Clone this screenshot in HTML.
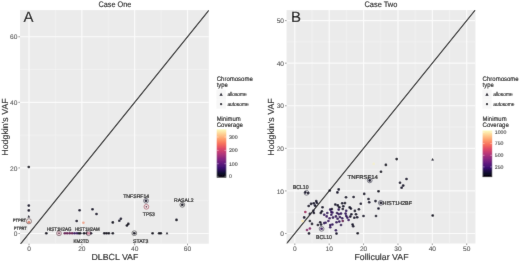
<!DOCTYPE html><html><head><meta charset="utf-8"><style>html,body{margin:0;padding:0;background:#fff;width:520px;height:262px;overflow:hidden}svg{display:block;text-rendering:geometricPrecision}#w{width:520px;height:262px}</style></head><body><div id="w"><svg width="520" height="262" viewBox="0 0 520 262" font-family='"Liberation Sans", sans-serif'>
<defs><filter id="bl" x="0" y="0" width="520" height="262" filterUnits="userSpaceOnUse"><feConvolveMatrix order="3" kernelMatrix="0.00524 0.06192 0.00524 0.06192 0.73137 0.06192 0.00524 0.06192 0.00524" edgeMode="duplicate" preserveAlpha="true"/></filter></defs><g filter="url(#bl)">
<rect width="520" height="262" fill="#FFFFFF"/>
<rect x="20.0" y="10.1" width="188.8" height="233.6" fill="#EBEBEB"/>
<line x1="55.42" y1="10.1" x2="55.42" y2="243.7" stroke="#F3F3F3" stroke-width="0.7"/>
<line x1="20.0" y1="200.71" x2="208.8" y2="200.71" stroke="#F3F3F3" stroke-width="0.7"/>
<line x1="108.26" y1="10.1" x2="108.26" y2="243.7" stroke="#F3F3F3" stroke-width="0.7"/>
<line x1="20.0" y1="135.13" x2="208.8" y2="135.13" stroke="#F3F3F3" stroke-width="0.7"/>
<line x1="161.10" y1="10.1" x2="161.10" y2="243.7" stroke="#F3F3F3" stroke-width="0.7"/>
<line x1="20.0" y1="69.55" x2="208.8" y2="69.55" stroke="#F3F3F3" stroke-width="0.7"/>
<line x1="29.00" y1="10.1" x2="29.00" y2="243.7" stroke="#FBFBFB" stroke-width="1.2"/>
<line x1="20.0" y1="233.50" x2="208.8" y2="233.50" stroke="#FBFBFB" stroke-width="1.2"/>
<line x1="81.84" y1="10.1" x2="81.84" y2="243.7" stroke="#FBFBFB" stroke-width="1.2"/>
<line x1="20.0" y1="167.92" x2="208.8" y2="167.92" stroke="#FBFBFB" stroke-width="1.2"/>
<line x1="134.68" y1="10.1" x2="134.68" y2="243.7" stroke="#FBFBFB" stroke-width="1.2"/>
<line x1="20.0" y1="102.34" x2="208.8" y2="102.34" stroke="#FBFBFB" stroke-width="1.2"/>
<line x1="187.52" y1="10.1" x2="187.52" y2="243.7" stroke="#FBFBFB" stroke-width="1.2"/>
<line x1="20.0" y1="36.76" x2="208.8" y2="36.76" stroke="#FBFBFB" stroke-width="1.2"/>
<line x1="29.00" y1="243.7" x2="29.00" y2="245.29999999999998" stroke="#333333" stroke-width="0.5"/>
<line x1="18.4" y1="233.50" x2="20.0" y2="233.50" stroke="#333333" stroke-width="0.5"/>
<text stroke="#4D4D4D" stroke-width="0.1" x="29.00" y="251.4" font-size="6.6" fill="#4D4D4D" text-anchor="middle">0</text>
<text stroke="#4D4D4D" stroke-width="0.1" x="17.40" y="236.10" font-size="6.6" fill="#4D4D4D" text-anchor="end">0</text>
<line x1="81.84" y1="243.7" x2="81.84" y2="245.29999999999998" stroke="#333333" stroke-width="0.5"/>
<line x1="18.4" y1="167.92" x2="20.0" y2="167.92" stroke="#333333" stroke-width="0.5"/>
<text stroke="#4D4D4D" stroke-width="0.1" x="81.84" y="251.4" font-size="6.6" fill="#4D4D4D" text-anchor="middle">20</text>
<text stroke="#4D4D4D" stroke-width="0.1" x="17.40" y="170.52" font-size="6.6" fill="#4D4D4D" text-anchor="end">20</text>
<line x1="134.68" y1="243.7" x2="134.68" y2="245.29999999999998" stroke="#333333" stroke-width="0.5"/>
<line x1="18.4" y1="102.34" x2="20.0" y2="102.34" stroke="#333333" stroke-width="0.5"/>
<text stroke="#4D4D4D" stroke-width="0.1" x="134.68" y="251.4" font-size="6.6" fill="#4D4D4D" text-anchor="middle">40</text>
<text stroke="#4D4D4D" stroke-width="0.1" x="17.40" y="104.94" font-size="6.6" fill="#4D4D4D" text-anchor="end">40</text>
<line x1="187.52" y1="243.7" x2="187.52" y2="245.29999999999998" stroke="#333333" stroke-width="0.5"/>
<line x1="18.4" y1="36.76" x2="20.0" y2="36.76" stroke="#333333" stroke-width="0.5"/>
<text stroke="#4D4D4D" stroke-width="0.1" x="187.52" y="251.4" font-size="6.6" fill="#4D4D4D" text-anchor="middle">60</text>
<text stroke="#4D4D4D" stroke-width="0.1" x="17.40" y="39.36" font-size="6.6" fill="#4D4D4D" text-anchor="end">60</text>
<text stroke="#000" stroke-width="0.1" x="114.9" y="6.9" font-size="8" fill="#000" text-anchor="middle" textLength="33" lengthAdjust="spacingAndGlyphs">Case One</text>
<text stroke="#000" stroke-width="0.1" x="114.90" y="260.2" font-size="8.8" fill="#000" text-anchor="middle">DLBCL VAF</text>
<text stroke="#000" stroke-width="0.1" transform="translate(7.90 127.0) rotate(-90)" font-size="8.8" fill="#000" text-anchor="middle">Hodgkin's VAF</text>
<text stroke="#000" stroke-width="0.1" x="23.6" y="22.1" font-size="15" fill="#000">A</text>
<rect x="286.6" y="10.1" width="188.79999999999995" height="233.4" fill="#EBEBEB"/>
<line x1="311.99" y1="10.1" x2="311.99" y2="243.5" stroke="#F3F3F3" stroke-width="0.7"/>
<line x1="286.6" y1="212.21" x2="475.4" y2="212.21" stroke="#F3F3F3" stroke-width="0.7"/>
<line x1="346.37" y1="10.1" x2="346.37" y2="243.5" stroke="#F3F3F3" stroke-width="0.7"/>
<line x1="286.6" y1="169.63" x2="475.4" y2="169.63" stroke="#F3F3F3" stroke-width="0.7"/>
<line x1="380.75" y1="10.1" x2="380.75" y2="243.5" stroke="#F3F3F3" stroke-width="0.7"/>
<line x1="286.6" y1="127.05" x2="475.4" y2="127.05" stroke="#F3F3F3" stroke-width="0.7"/>
<line x1="415.13" y1="10.1" x2="415.13" y2="243.5" stroke="#F3F3F3" stroke-width="0.7"/>
<line x1="286.6" y1="84.47" x2="475.4" y2="84.47" stroke="#F3F3F3" stroke-width="0.7"/>
<line x1="449.51" y1="10.1" x2="449.51" y2="243.5" stroke="#F3F3F3" stroke-width="0.7"/>
<line x1="286.6" y1="41.89" x2="475.4" y2="41.89" stroke="#F3F3F3" stroke-width="0.7"/>
<line x1="294.80" y1="10.1" x2="294.80" y2="243.5" stroke="#FBFBFB" stroke-width="1.2"/>
<line x1="286.6" y1="233.50" x2="475.4" y2="233.50" stroke="#FBFBFB" stroke-width="1.2"/>
<line x1="329.18" y1="10.1" x2="329.18" y2="243.5" stroke="#FBFBFB" stroke-width="1.2"/>
<line x1="286.6" y1="190.92" x2="475.4" y2="190.92" stroke="#FBFBFB" stroke-width="1.2"/>
<line x1="363.56" y1="10.1" x2="363.56" y2="243.5" stroke="#FBFBFB" stroke-width="1.2"/>
<line x1="286.6" y1="148.34" x2="475.4" y2="148.34" stroke="#FBFBFB" stroke-width="1.2"/>
<line x1="397.94" y1="10.1" x2="397.94" y2="243.5" stroke="#FBFBFB" stroke-width="1.2"/>
<line x1="286.6" y1="105.76" x2="475.4" y2="105.76" stroke="#FBFBFB" stroke-width="1.2"/>
<line x1="432.32" y1="10.1" x2="432.32" y2="243.5" stroke="#FBFBFB" stroke-width="1.2"/>
<line x1="286.6" y1="63.18" x2="475.4" y2="63.18" stroke="#FBFBFB" stroke-width="1.2"/>
<line x1="466.70" y1="10.1" x2="466.70" y2="243.5" stroke="#FBFBFB" stroke-width="1.2"/>
<line x1="286.6" y1="20.60" x2="475.4" y2="20.60" stroke="#FBFBFB" stroke-width="1.2"/>
<line x1="294.80" y1="243.5" x2="294.80" y2="245.1" stroke="#333333" stroke-width="0.5"/>
<line x1="285.0" y1="233.50" x2="286.6" y2="233.50" stroke="#333333" stroke-width="0.5"/>
<text stroke="#4D4D4D" stroke-width="0.1" x="294.80" y="251.4" font-size="6.6" fill="#4D4D4D" text-anchor="middle">0</text>
<text stroke="#4D4D4D" stroke-width="0.1" x="284.00" y="236.10" font-size="6.6" fill="#4D4D4D" text-anchor="end">0</text>
<line x1="329.18" y1="243.5" x2="329.18" y2="245.1" stroke="#333333" stroke-width="0.5"/>
<line x1="285.0" y1="190.92" x2="286.6" y2="190.92" stroke="#333333" stroke-width="0.5"/>
<text stroke="#4D4D4D" stroke-width="0.1" x="329.18" y="251.4" font-size="6.6" fill="#4D4D4D" text-anchor="middle">10</text>
<text stroke="#4D4D4D" stroke-width="0.1" x="284.00" y="193.52" font-size="6.6" fill="#4D4D4D" text-anchor="end">10</text>
<line x1="363.56" y1="243.5" x2="363.56" y2="245.1" stroke="#333333" stroke-width="0.5"/>
<line x1="285.0" y1="148.34" x2="286.6" y2="148.34" stroke="#333333" stroke-width="0.5"/>
<text stroke="#4D4D4D" stroke-width="0.1" x="363.56" y="251.4" font-size="6.6" fill="#4D4D4D" text-anchor="middle">20</text>
<text stroke="#4D4D4D" stroke-width="0.1" x="284.00" y="150.94" font-size="6.6" fill="#4D4D4D" text-anchor="end">20</text>
<line x1="397.94" y1="243.5" x2="397.94" y2="245.1" stroke="#333333" stroke-width="0.5"/>
<line x1="285.0" y1="105.76" x2="286.6" y2="105.76" stroke="#333333" stroke-width="0.5"/>
<text stroke="#4D4D4D" stroke-width="0.1" x="397.94" y="251.4" font-size="6.6" fill="#4D4D4D" text-anchor="middle">30</text>
<text stroke="#4D4D4D" stroke-width="0.1" x="284.00" y="108.36" font-size="6.6" fill="#4D4D4D" text-anchor="end">30</text>
<line x1="432.32" y1="243.5" x2="432.32" y2="245.1" stroke="#333333" stroke-width="0.5"/>
<line x1="285.0" y1="63.18" x2="286.6" y2="63.18" stroke="#333333" stroke-width="0.5"/>
<text stroke="#4D4D4D" stroke-width="0.1" x="432.32" y="251.4" font-size="6.6" fill="#4D4D4D" text-anchor="middle">40</text>
<text stroke="#4D4D4D" stroke-width="0.1" x="284.00" y="65.78" font-size="6.6" fill="#4D4D4D" text-anchor="end">40</text>
<line x1="466.70" y1="243.5" x2="466.70" y2="245.1" stroke="#333333" stroke-width="0.5"/>
<line x1="285.0" y1="20.60" x2="286.6" y2="20.60" stroke="#333333" stroke-width="0.5"/>
<text stroke="#4D4D4D" stroke-width="0.1" x="466.70" y="251.4" font-size="6.6" fill="#4D4D4D" text-anchor="middle">50</text>
<text stroke="#4D4D4D" stroke-width="0.1" x="284.00" y="23.20" font-size="6.6" fill="#4D4D4D" text-anchor="end">50</text>
<text stroke="#000" stroke-width="0.1" x="380.9" y="6.9" font-size="8" fill="#000" text-anchor="middle" textLength="33" lengthAdjust="spacingAndGlyphs">Case Two</text>
<text stroke="#000" stroke-width="0.1" x="381.50" y="260.2" font-size="8.8" fill="#000" text-anchor="middle">Follicular VAF</text>
<text stroke="#000" stroke-width="0.1" transform="translate(273.80 127.0) rotate(-90)" font-size="8.8" fill="#000" text-anchor="middle">Hodgkin's VAF</text>
<text stroke="#000" stroke-width="0.1" x="291.0" y="22.1" font-size="15" fill="#000">B</text>
<defs><clipPath id="ca"><rect x="20.0" y="10.1" width="188.80" height="233.60"/></clipPath><clipPath id="cb"><rect x="286.6" y="10.1" width="188.80" height="233.40"/></clipPath></defs>
<g clip-path="url(#ca)">
<line x1="2.58" y1="266.29" x2="240.36" y2="-28.82" stroke="#000" stroke-width="1.05"/>
<circle cx="28.8" cy="167.0" r="1.32" fill="#050416"/>
<circle cx="28.8" cy="205.6" r="1.32" fill="#0E0A26"/>
<circle cx="28.8" cy="210.4" r="1.32" fill="#0E0A26"/>
<circle cx="79.6" cy="210.3" r="1.32" fill="#0E0A26"/>
<circle cx="92.5" cy="209.2" r="1.32" fill="#0E0A26"/>
<circle cx="96.5" cy="214.0" r="1.32" fill="#0E0A26"/>
<circle cx="76.7" cy="221.0" r="1.32" fill="#0E0A26"/>
<circle cx="83.4" cy="222.7" r="1.32" fill="#F0A890"/>
<circle cx="46.3" cy="233.2" r="1.32" fill="#050416"/>
<circle cx="64.8" cy="233.2" r="1.32" fill="#6A1858"/>
<circle cx="67.2" cy="233.2" r="1.32" fill="#6A1858"/>
<circle cx="69.7" cy="233.2" r="1.32" fill="#6A1858"/>
<circle cx="72.2" cy="233.2" r="1.32" fill="#6A1858"/>
<circle cx="74.6" cy="233.2" r="1.32" fill="#3E1166"/>
<circle cx="77.1" cy="233.2" r="1.32" fill="#3E1166"/>
<circle cx="78.9" cy="233.2" r="1.32" fill="#0E0A26"/>
<circle cx="80.2" cy="233.2" r="1.32" fill="#050416"/>
<circle cx="84.0" cy="233.2" r="1.32" fill="#050416"/>
<circle cx="86.8" cy="233.2" r="1.32" fill="#050416"/>
<circle cx="91.0" cy="233.2" r="1.32" fill="#0E0A26"/>
<circle cx="104.3" cy="233.2" r="1.32" fill="#050416"/>
<circle cx="106.5" cy="233.2" r="1.32" fill="#050416"/>
<circle cx="108.8" cy="233.2" r="1.32" fill="#050416"/>
<circle cx="112.8" cy="233.2" r="1.32" fill="#050416"/>
<circle cx="112.8" cy="222.4" r="1.32" fill="#050416"/>
<circle cx="119.3" cy="220.8" r="1.32" fill="#0E0A26"/>
<circle cx="120.9" cy="218.7" r="1.32" fill="#0E0A26"/>
<circle cx="126.9" cy="225.5" r="1.32" fill="#050416"/>
<circle cx="128.3" cy="223.9" r="1.32" fill="#050416"/>
<circle cx="152.6" cy="233.2" r="1.32" fill="#050416"/>
<circle cx="159.1" cy="233.2" r="1.32" fill="#050416"/>
<circle cx="160.8" cy="233.2" r="1.32" fill="#050416"/>
<circle cx="176.5" cy="219.9" r="1.32" fill="#050416"/>
<path d="M28.8 214.97L30.10 217.38L27.50 217.38Z" fill="#050416"/>
<path d="M167.0 231.77L168.30 234.17L165.70 234.17Z" fill="#050416"/>
<circle cx="28.9" cy="222.2" r="1.4" fill="#D98A78"/>
<circle cx="28.9" cy="221.3" r="2.6" fill="none" stroke="#6a4a4a" stroke-width="0.65"/>
<circle cx="59.0" cy="233.3" r="1.7" fill="#E6C0CC"/>
<circle cx="59.0" cy="233.3" r="2.4" fill="none" stroke="#5A3040" stroke-width="0.6"/>
<circle cx="59.0" cy="233.3" r="0.7" fill="#2A1020"/>
<circle cx="88.5" cy="233.2" r="1.5" fill="#D890A8"/>
<circle cx="88.5" cy="233.2" r="2.4" fill="none" stroke="#4A3040" stroke-width="0.6"/>
<circle cx="134.3" cy="233.2" r="1.32" fill="#050416"/>
<circle cx="134.3" cy="233.2" r="2.4" fill="none" stroke="#333333" stroke-width="0.6"/>
<circle cx="146.0" cy="200.8" r="1.32" fill="#0E0A26"/>
<circle cx="146.0" cy="200.8" r="2.4" fill="none" stroke="#333344" stroke-width="0.6"/>
<circle cx="146.4" cy="206.8" r="1.8" fill="#F2E4E8"/>
<circle cx="146.4" cy="206.8" r="2.4" fill="none" stroke="#A04050" stroke-width="0.6"/>
<circle cx="146.4" cy="206.8" r="0.75" fill="#3A1020"/>
<circle cx="182.3" cy="204.8" r="1.32" fill="#050416"/>
<circle cx="182.3" cy="204.8" r="2.4" fill="none" stroke="#333333" stroke-width="0.6"/>
</g>
<text x="12.68" y="221.7" font-size="4.6" fill="#1A1A1A" stroke="#1A1A1A" stroke-width="0.22" textLength="13.45" lengthAdjust="spacingAndGlyphs">PTPRT</text>
<text x="13.83" y="229.8" font-size="4.6" fill="#1A1A1A" stroke="#1A1A1A" stroke-width="0.22" textLength="12.90" lengthAdjust="spacingAndGlyphs">PTPRT</text>
<text x="46.82" y="230.5" font-size="5.2" fill="#1A1A1A" stroke="#1A1A1A" stroke-width="0.22" textLength="24.60" lengthAdjust="spacingAndGlyphs">HIST1H2AG</text>
<text x="74.92" y="230.5" font-size="5.2" fill="#1A1A1A" stroke="#1A1A1A" stroke-width="0.22" textLength="24.80" lengthAdjust="spacingAndGlyphs">HIST1H2AM</text>
<text x="73.42" y="243.4" font-size="5.2" fill="#1A1A1A" stroke="#1A1A1A" stroke-width="0.22" textLength="15.30" lengthAdjust="spacingAndGlyphs">KM2TD</text>
<text x="123.22" y="197.9" font-size="5.2" fill="#1A1A1A" stroke="#1A1A1A" stroke-width="0.22" textLength="26.00" lengthAdjust="spacingAndGlyphs">TNFSRF14</text>
<text x="142.82" y="216.4" font-size="5.2" fill="#1A1A1A" stroke="#1A1A1A" stroke-width="0.22" textLength="12.10" lengthAdjust="spacingAndGlyphs">TP53</text>
<text x="133.12" y="243.4" font-size="5.2" fill="#1A1A1A" stroke="#1A1A1A" stroke-width="0.22" textLength="15.20" lengthAdjust="spacingAndGlyphs">STAT3</text>
<text x="174.02" y="201.8" font-size="5.2" fill="#1A1A1A" stroke="#1A1A1A" stroke-width="0.22" textLength="19.60" lengthAdjust="spacingAndGlyphs">RASAL2</text>
<g clip-path="url(#cb)">
<line x1="260.42" y1="276.08" x2="569.84" y2="-107.14" stroke="#000" stroke-width="1.05"/>
<circle cx="305.3" cy="192.4" r="1.32" fill="#0E0A26"/>
<circle cx="308.2" cy="193.0" r="1.32" fill="#0E0A26"/>
<circle cx="308.7" cy="206.0" r="1.32" fill="#0E0A26"/>
<circle cx="311.0" cy="203.9" r="1.32" fill="#0E0A26"/>
<circle cx="313.7" cy="203.3" r="1.32" fill="#0E0A26"/>
<circle cx="316.2" cy="201.0" r="1.32" fill="#0E0A26"/>
<circle cx="316.8" cy="202.8" r="1.32" fill="#0E0A26"/>
<circle cx="315.0" cy="205.6" r="1.32" fill="#0E0A26"/>
<circle cx="322.5" cy="207.3" r="1.32" fill="#0E0A26"/>
<circle cx="321.9" cy="211.3" r="1.32" fill="#0E0A26"/>
<circle cx="320.8" cy="213.0" r="1.32" fill="#0E0A26"/>
<circle cx="313.3" cy="210.8" r="1.32" fill="#0E0A26"/>
<circle cx="313.9" cy="213.0" r="1.32" fill="#0E0A26"/>
<circle cx="305.3" cy="212.0" r="1.32" fill="#A02860"/>
<circle cx="329.8" cy="190.5" r="1.32" fill="#050416"/>
<circle cx="338.7" cy="189.4" r="1.32" fill="#0E0A26"/>
<circle cx="337.4" cy="192.4" r="1.32" fill="#0E0A26"/>
<circle cx="346.0" cy="197.3" r="1.32" fill="#0E0A26"/>
<circle cx="353.6" cy="197.0" r="1.32" fill="#0E0A26"/>
<circle cx="335.3" cy="204.5" r="1.32" fill="#0E0A26"/>
<circle cx="337.8" cy="205.4" r="1.32" fill="#0E0A26"/>
<circle cx="342.2" cy="203.3" r="1.32" fill="#0E0A26"/>
<circle cx="345.0" cy="203.1" r="1.32" fill="#0E0A26"/>
<circle cx="343.3" cy="206.2" r="1.32" fill="#0E0A26"/>
<circle cx="339.3" cy="207.3" r="1.32" fill="#0E0A26"/>
<circle cx="338.7" cy="209.6" r="1.32" fill="#34105E"/>
<circle cx="342.8" cy="209.0" r="1.32" fill="#0E0A26"/>
<circle cx="346.2" cy="210.8" r="1.32" fill="#34105E"/>
<circle cx="330.2" cy="209.6" r="1.32" fill="#34105E"/>
<circle cx="331.9" cy="209.0" r="1.32" fill="#0E0A26"/>
<circle cx="331.3" cy="211.9" r="1.32" fill="#34105E"/>
<circle cx="327.3" cy="213.0" r="1.32" fill="#34105E"/>
<circle cx="332.4" cy="212.5" r="1.32" fill="#34105E"/>
<circle cx="337.0" cy="213.0" r="1.32" fill="#34105E"/>
<circle cx="341.0" cy="213.6" r="1.32" fill="#34105E"/>
<circle cx="345.6" cy="213.6" r="1.32" fill="#34105E"/>
<circle cx="378.5" cy="191.3" r="1.32" fill="#050416"/>
<circle cx="364.2" cy="193.9" r="1.32" fill="#0E0A26"/>
<circle cx="368.5" cy="199.0" r="1.32" fill="#0E0A26"/>
<circle cx="378.5" cy="208.5" r="1.32" fill="#0E0A26"/>
<circle cx="360.8" cy="203.7" r="1.32" fill="#0E0A26"/>
<circle cx="369.2" cy="202.3" r="1.32" fill="#0E0A26"/>
<circle cx="375.5" cy="201.1" r="1.32" fill="#0E0A26"/>
<circle cx="349.7" cy="207.4" r="1.32" fill="#0E0A26"/>
<circle cx="350.9" cy="208.6" r="1.32" fill="#0E0A26"/>
<circle cx="354.9" cy="210.9" r="1.32" fill="#0E0A26"/>
<circle cx="358.9" cy="209.2" r="1.32" fill="#0E0A26"/>
<circle cx="351.4" cy="214.3" r="1.32" fill="#0E0A26"/>
<circle cx="350.3" cy="216.6" r="1.32" fill="#0E0A26"/>
<circle cx="356.0" cy="214.3" r="1.32" fill="#0E0A26"/>
<circle cx="357.2" cy="217.2" r="1.32" fill="#0E0A26"/>
<circle cx="354.3" cy="217.8" r="1.32" fill="#0E0A26"/>
<circle cx="348.6" cy="220.0" r="1.32" fill="#3E1166"/>
<circle cx="363.5" cy="216.0" r="1.32" fill="#0E0A26"/>
<circle cx="376.0" cy="216.0" r="1.32" fill="#0E0A26"/>
<circle cx="352.6" cy="224.6" r="1.32" fill="#0E0A26"/>
<circle cx="353.2" cy="226.3" r="1.32" fill="#0E0A26"/>
<circle cx="304.2" cy="217.4" r="1.32" fill="#0E0A26"/>
<circle cx="309.9" cy="213.9" r="1.32" fill="#0E0A26"/>
<circle cx="309.9" cy="221.0" r="1.32" fill="#0E0A26"/>
<circle cx="312.0" cy="223.9" r="1.32" fill="#0E0A26"/>
<circle cx="309.9" cy="228.5" r="1.32" fill="#8C2070"/>
<circle cx="307.0" cy="230.0" r="1.32" fill="#8C2070"/>
<circle cx="309.0" cy="233.4" r="1.32" fill="#0E0A26"/>
<circle cx="317.9" cy="225.0" r="1.32" fill="#0E0A26"/>
<circle cx="320.2" cy="222.2" r="1.32" fill="#0E0A26"/>
<circle cx="321.1" cy="224.5" r="1.32" fill="#0E0A26"/>
<circle cx="324.2" cy="223.1" r="1.32" fill="#34105E"/>
<circle cx="324.2" cy="214.7" r="1.32" fill="#34105E"/>
<circle cx="302.5" cy="221.0" r="1.32" fill="#FBE9AE"/>
<circle cx="326.7" cy="216.4" r="1.32" fill="#3E1166"/>
<circle cx="329.6" cy="218.2" r="1.32" fill="#3E1166"/>
<circle cx="328.4" cy="221.0" r="1.32" fill="#3E1166"/>
<circle cx="331.3" cy="214.7" r="1.32" fill="#34105E"/>
<circle cx="333.0" cy="217.6" r="1.32" fill="#34105E"/>
<circle cx="335.9" cy="216.4" r="1.32" fill="#34105E"/>
<circle cx="337.6" cy="218.7" r="1.32" fill="#34105E"/>
<circle cx="339.9" cy="217.0" r="1.32" fill="#34105E"/>
<circle cx="338.7" cy="214.1" r="1.32" fill="#34105E"/>
<circle cx="342.2" cy="218.2" r="1.32" fill="#34105E"/>
<circle cx="342.8" cy="221.0" r="1.32" fill="#6A1858"/>
<circle cx="346.2" cy="215.9" r="1.32" fill="#34105E"/>
<circle cx="347.3" cy="217.6" r="1.32" fill="#34105E"/>
<circle cx="336.5" cy="222.2" r="1.32" fill="#34105E"/>
<circle cx="339.3" cy="221.6" r="1.32" fill="#34105E"/>
<circle cx="332.4" cy="224.5" r="1.32" fill="#34105E"/>
<circle cx="330.2" cy="225.0" r="1.32" fill="#34105E"/>
<circle cx="330.2" cy="227.3" r="1.32" fill="#34105E"/>
<circle cx="341.0" cy="225.0" r="1.32" fill="#34105E"/>
<circle cx="335.9" cy="230.2" r="1.32" fill="#34105E"/>
<circle cx="336.5" cy="233.6" r="1.32" fill="#0E0A26"/>
<circle cx="325.6" cy="222.7" r="1.32" fill="#34105E"/>
<circle cx="357.7" cy="233.2" r="1.32" fill="#050416"/>
<circle cx="396.7" cy="159.1" r="1.32" fill="#050416"/>
<circle cx="385.9" cy="164.9" r="1.32" fill="#050416"/>
<circle cx="381.0" cy="171.8" r="1.32" fill="#050416"/>
<circle cx="406.5" cy="179.0" r="1.32" fill="#0E0A26"/>
<circle cx="400.0" cy="182.7" r="1.32" fill="#0E0A26"/>
<circle cx="403.2" cy="185.6" r="1.32" fill="#0E0A26"/>
<circle cx="401.6" cy="187.8" r="1.32" fill="#0E0A26"/>
<circle cx="432.7" cy="215.5" r="1.32" fill="#050416"/>
<circle cx="373.7" cy="163.9" r="1.32" fill="#F3EFCF"/>
<path d="M432.6 157.91L433.95 160.41L431.25 160.41Z" fill="#050416"/>
<circle cx="306.5" cy="192.8" r="2.4" fill="none" stroke="#333344" stroke-width="0.6"/>
<circle cx="321.6" cy="228.8" r="1.32" fill="#3E1166"/>
<circle cx="321.6" cy="228.8" r="2.4" fill="none" stroke="#333344" stroke-width="0.6"/>
<circle cx="369.7" cy="180.4" r="1.32" fill="#0E0A26"/>
<circle cx="369.7" cy="180.4" r="2.4" fill="none" stroke="#333344" stroke-width="0.6"/>
<circle cx="380.8" cy="202.9" r="1.32" fill="#0E0A26"/>
<circle cx="380.8" cy="202.9" r="2.4" fill="none" stroke="#333344" stroke-width="0.6"/>
</g>
<text x="292.81" y="188.9" font-size="5.7" fill="#1A1A1A" stroke="#1A1A1A" stroke-width="0.22" textLength="15.70" lengthAdjust="spacingAndGlyphs">BCL10</text>
<text x="316.11" y="238.9" font-size="5.7" fill="#1A1A1A" stroke="#1A1A1A" stroke-width="0.22" textLength="15.80" lengthAdjust="spacingAndGlyphs">BCL10</text>
<text x="347.61" y="178.6" font-size="5.7" fill="#1A1A1A" stroke="#1A1A1A" stroke-width="0.22" textLength="30.30" lengthAdjust="spacingAndGlyphs">TNFRSF14</text>
<text x="382.51" y="205.3" font-size="5.7" fill="#1A1A1A" stroke="#1A1A1A" stroke-width="0.22" textLength="29.60" lengthAdjust="spacingAndGlyphs">HIST1H2BF</text>
<text stroke="#000" stroke-width="0.1" x="216.70" y="80.6" font-size="6.6" fill="#000" textLength="36.10" lengthAdjust="spacingAndGlyphs">Chromosome</text>
<text stroke="#000" stroke-width="0.1" x="216.70" y="86.9" font-size="6.6" fill="#000" textLength="11.10" lengthAdjust="spacingAndGlyphs">type</text>
<rect x="216.40" y="89.6" width="9.4" height="9.4" fill="#F7F7F7"/>
<rect x="216.40" y="99.3" width="9.4" height="9.4" fill="#F7F7F7"/>
<path d="M221.1 92.78L222.75 95.84L219.45 95.84Z" fill="#050416"/>
<circle cx="221.1" cy="104.2" r="1.15" fill="#050416"/>
<text stroke="#000" stroke-width="0.1" x="227.40" y="96.3" font-size="5.7" fill="#000" textLength="19.30" lengthAdjust="spacingAndGlyphs">allosome</text>
<text stroke="#000" stroke-width="0.1" x="227.40" y="106.0" font-size="5.7" fill="#000" textLength="21.20" lengthAdjust="spacingAndGlyphs">autosome</text>
<text stroke="#000" stroke-width="0.1" x="216.70" y="120.7" font-size="6.6" fill="#000" textLength="24.00" lengthAdjust="spacingAndGlyphs">Minimum</text>
<text stroke="#000" stroke-width="0.1" x="216.70" y="127.4" font-size="6.6" fill="#000" textLength="26.20" lengthAdjust="spacingAndGlyphs">Coverage</text>
<defs><linearGradient id="ga" x1="0" y1="1" x2="0" y2="0"><stop offset="0.0" stop-color="#000004"/><stop offset="0.1" stop-color="#140E36"/><stop offset="0.2" stop-color="#3B0F70"/><stop offset="0.3" stop-color="#641A80"/><stop offset="0.4" stop-color="#8C2981"/><stop offset="0.5" stop-color="#B73779"/><stop offset="0.6" stop-color="#DE4968"/><stop offset="0.7" stop-color="#F7705C"/><stop offset="0.8" stop-color="#FE9F6D"/><stop offset="0.9" stop-color="#FECF92"/><stop offset="1.0" stop-color="#FCFDBF"/></linearGradient></defs>
<rect x="216.70" y="129.3" width="9.6" height="48.30" fill="url(#ga)"/>
<line x1="216.70" y1="137.0" x2="218.60" y2="137.0" stroke="#fff" stroke-width="0.4"/>
<line x1="224.40" y1="137.0" x2="226.30" y2="137.0" stroke="#fff" stroke-width="0.4"/>
<text stroke="#333" stroke-width="0.1" x="228.90" y="138.85" font-size="5.2" fill="#333">300</text>
<line x1="216.70" y1="150.4" x2="218.60" y2="150.4" stroke="#fff" stroke-width="0.4"/>
<line x1="224.40" y1="150.4" x2="226.30" y2="150.4" stroke="#fff" stroke-width="0.4"/>
<text stroke="#333" stroke-width="0.1" x="228.90" y="152.25" font-size="5.2" fill="#333">200</text>
<line x1="216.70" y1="163.7" x2="218.60" y2="163.7" stroke="#fff" stroke-width="0.4"/>
<line x1="224.40" y1="163.7" x2="226.30" y2="163.7" stroke="#fff" stroke-width="0.4"/>
<text stroke="#333" stroke-width="0.1" x="228.90" y="165.55" font-size="5.2" fill="#333">100</text>
<line x1="216.70" y1="176.3" x2="218.60" y2="176.3" stroke="#fff" stroke-width="0.4"/>
<line x1="224.40" y1="176.3" x2="226.30" y2="176.3" stroke="#fff" stroke-width="0.4"/>
<text stroke="#333" stroke-width="0.1" x="228.90" y="178.15" font-size="5.2" fill="#333">0</text>
<text stroke="#000" stroke-width="0.1" x="482.60" y="80.6" font-size="6.6" fill="#000" textLength="36.10" lengthAdjust="spacingAndGlyphs">Chromosome</text>
<text stroke="#000" stroke-width="0.1" x="482.60" y="86.9" font-size="6.6" fill="#000" textLength="11.10" lengthAdjust="spacingAndGlyphs">type</text>
<rect x="482.30" y="89.6" width="9.4" height="9.4" fill="#F7F7F7"/>
<rect x="482.30" y="99.3" width="9.4" height="9.4" fill="#F7F7F7"/>
<path d="M486.99999999999994 92.78L488.65 95.84L485.35 95.84Z" fill="#050416"/>
<circle cx="486.99999999999994" cy="104.2" r="1.15" fill="#050416"/>
<text stroke="#000" stroke-width="0.1" x="493.30" y="96.3" font-size="5.7" fill="#000" textLength="19.30" lengthAdjust="spacingAndGlyphs">allosome</text>
<text stroke="#000" stroke-width="0.1" x="493.30" y="106.0" font-size="5.7" fill="#000" textLength="21.20" lengthAdjust="spacingAndGlyphs">autosome</text>
<text stroke="#000" stroke-width="0.1" x="482.60" y="120.7" font-size="6.6" fill="#000" textLength="24.00" lengthAdjust="spacingAndGlyphs">Minimum</text>
<text stroke="#000" stroke-width="0.1" x="482.60" y="127.4" font-size="6.6" fill="#000" textLength="26.20" lengthAdjust="spacingAndGlyphs">Coverage</text>
<defs><linearGradient id="gb" x1="0" y1="1" x2="0" y2="0"><stop offset="0.0" stop-color="#000004"/><stop offset="0.1" stop-color="#140E36"/><stop offset="0.2" stop-color="#3B0F70"/><stop offset="0.3" stop-color="#641A80"/><stop offset="0.4" stop-color="#8C2981"/><stop offset="0.5" stop-color="#B73779"/><stop offset="0.6" stop-color="#DE4968"/><stop offset="0.7" stop-color="#F7705C"/><stop offset="0.8" stop-color="#FE9F6D"/><stop offset="0.9" stop-color="#FECF92"/><stop offset="1.0" stop-color="#FCFDBF"/></linearGradient></defs>
<rect x="482.60" y="130.5" width="9.6" height="46.60" fill="url(#gb)"/>
<line x1="482.60" y1="132.2" x2="484.50" y2="132.2" stroke="#fff" stroke-width="0.4"/>
<line x1="490.30" y1="132.2" x2="492.20" y2="132.2" stroke="#fff" stroke-width="0.4"/>
<text stroke="#333" stroke-width="0.1" x="494.80" y="134.05" font-size="5.2" fill="#333">1000</text>
<line x1="482.60" y1="143.6" x2="484.50" y2="143.6" stroke="#fff" stroke-width="0.4"/>
<line x1="490.30" y1="143.6" x2="492.20" y2="143.6" stroke="#fff" stroke-width="0.4"/>
<text stroke="#333" stroke-width="0.1" x="494.80" y="145.45" font-size="5.2" fill="#333">750</text>
<line x1="482.60" y1="155.3" x2="484.50" y2="155.3" stroke="#fff" stroke-width="0.4"/>
<line x1="490.30" y1="155.3" x2="492.20" y2="155.3" stroke="#fff" stroke-width="0.4"/>
<text stroke="#333" stroke-width="0.1" x="494.80" y="157.15" font-size="5.2" fill="#333">500</text>
<line x1="482.60" y1="166.9" x2="484.50" y2="166.9" stroke="#fff" stroke-width="0.4"/>
<line x1="490.30" y1="166.9" x2="492.20" y2="166.9" stroke="#fff" stroke-width="0.4"/>
<text stroke="#333" stroke-width="0.1" x="494.80" y="168.75" font-size="5.2" fill="#333">250</text>
</g></svg></div></body></html>
